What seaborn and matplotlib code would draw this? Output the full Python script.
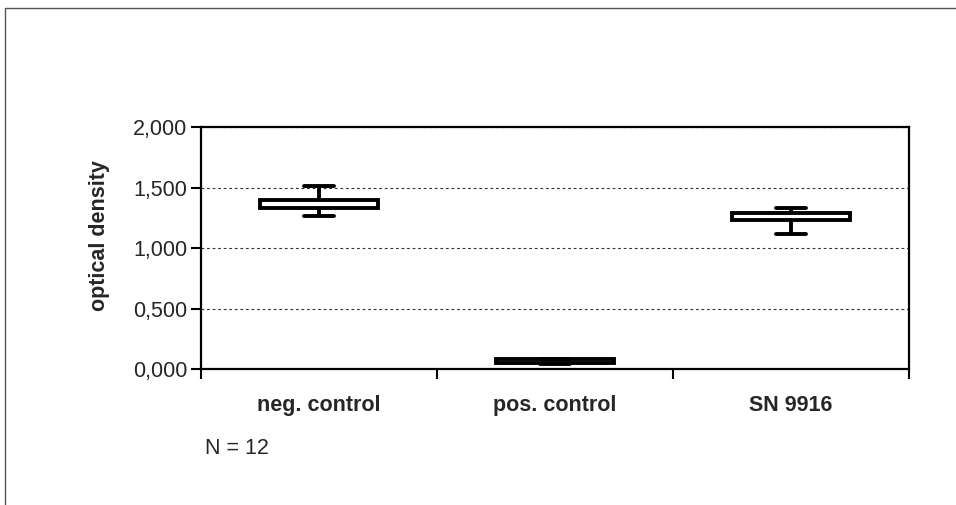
import numpy as np
import pandas as pd
import matplotlib
matplotlib.use("Agg")
import matplotlib.pyplot as plt
import seaborn as sns
from matplotlib.patches import Rectangle
from matplotlib.ticker import FuncFormatter

# Stock-chart style values (optical density)
categories = ["neg. control", "pos. control", "SN 9916"]
low = [1265, 45, 1115]
box_low = [1330, 50, 1230]
box_high = [1395, 80, 1290]
high = [1510, 85, 1330]
n_label = "N = 12"

# five points per group: whiskers at low/high, quartiles at box_low/box_high
rows = []
for cat, lo, b1, b2, hi in zip(categories, low, box_low, box_high, high):
    for v in (lo, b1, b2, b2, hi):
        rows.append({"group": cat, "od": v})
df = pd.DataFrame(rows)

sns.set_style("white")
plt.rcParams["font.family"] = ["Liberation Sans", "DejaVu Sans"]
fs = 15.5

fig = plt.figure(figsize=(9.56, 5.05), dpi=100)
ax = fig.add_axes([0.2103, 0.2693, 0.7406, 0.4792])

# grid behind the boxes
ax.set_axisbelow(True)
ax.yaxis.grid(True, color="#333333", linestyle=(0, (2.5, 2.5)), linewidth=0.8)

lw = 2.8
sns.boxplot(data=df, x="group", y="od", order=categories, ax=ax,
            whis=np.inf, width=0.5, color="white", linecolor="black",
            linewidth=lw, showfliers=False,
            medianprops={"visible": False},
            boxprops={"facecolor": "white", "edgecolor": "black", "linewidth": lw},
            whiskerprops={"color": "black", "linewidth": lw},
            capprops={"color": "black", "linewidth": lw},
            capwidths=0.13)

ax.set_xlim(-0.5, 2.5)
ax.set_ylim(0, 2000)
ax.set_yticks([0, 500, 1000, 1500, 2000])
ax.yaxis.set_major_formatter(FuncFormatter(lambda v, p: f"{v/1000:.3f}".replace(".", ",")))
ax.tick_params(axis="y", which="major", direction="out", length=7, width=1.5,
               labelsize=fs, color="black", left=True, pad=3)

# category labels centred, tick marks on category borders
ax.set_xticks(range(len(categories)))
ax.set_xticklabels(categories, fontweight="bold", fontsize=fs)
ax.set_xticks([-0.5, 0.5, 1.5, 2.5], minor=True)
ax.tick_params(axis="x", which="major", length=0, pad=19)
ax.tick_params(axis="x", which="minor", direction="out", length=7, width=1.5,
               color="black", bottom=True)

ax.set_xlabel("")
ax.set_ylabel("optical density", fontweight="bold", fontsize=fs)
ax.yaxis.set_label_coords(-0.128, 0.55)

for s in ax.spines.values():
    s.set_visible(True)
    s.set_color("black")
    s.set_linewidth(1.6)

fig.text(205 / 956, 1 - 448 / 505, n_label, fontsize=fs, ha="left", va="center")

# thin outer frame of the original figure
fig.patches.append(Rectangle((5 / 956, -0.02), 1.0, 1 - 8 / 505 + 0.02,
                             transform=fig.transFigure, fill=False,
                             edgecolor="#555555", linewidth=1.0))

fig.savefig("out.png", dpi=100)
